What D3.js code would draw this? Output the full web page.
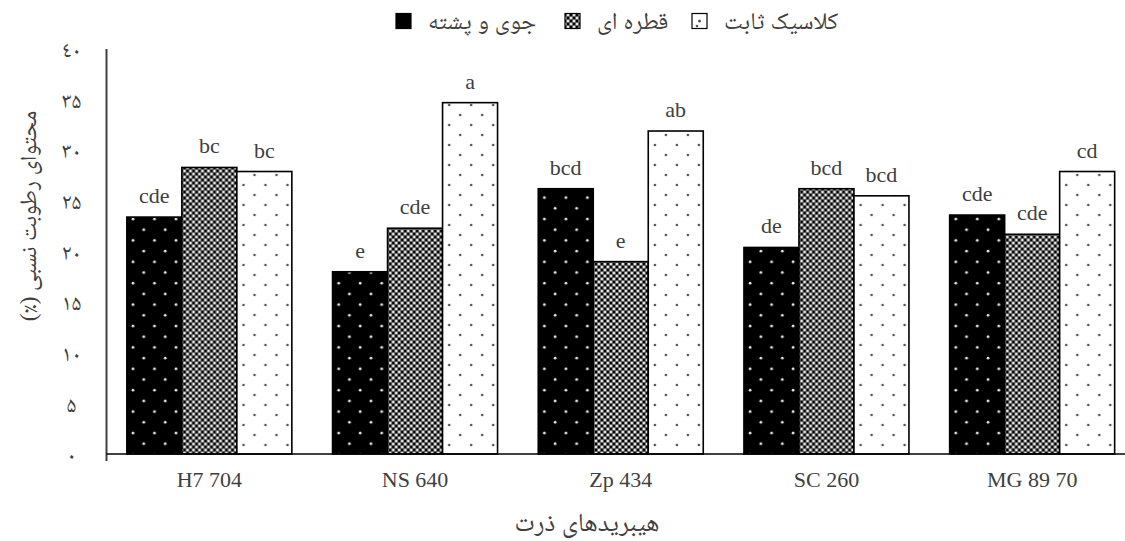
<!DOCTYPE html>
<html>
<head>
<meta charset="utf-8">
<script src="https://cdn.jsdelivr.net/npm/d3@7"></script>
<style>
  html, body { margin: 0; padding: 0; background: #ffffff; }
  svg { display: block; }
</style>
</head>
<body>
<svg id="chart" width="1125" height="541"></svg>
<script>
// Corn hybrids on the x axis
const categories = ["H7 704", "NS 640", "Zp 434", "SC 260", "MG 89 70"];
// Irrigation methods (legend order)
const seriesNames = ["جوی و پشته", "قطره ای", "کلاسیک ثابت"];
// Relative moisture content (%) per hybrid, one array per irrigation method
const furrowValues  = [23.4, 18.0, 26.2, 20.4, 23.6];
const dripValues    = [28.3, 22.3, 19.0, 26.2, 21.7];
const classicValues = [27.9, 34.7, 31.9, 25.5, 27.9];
// Mean-comparison letters shown above each bar
const furrowLetters  = ["cde", "e", "bcd", "de", "cde"];
const dripLetters    = ["bc", "cde", "e", "bcd", "cde"];
const classicLetters = ["bc", "a", "ab", "bcd", "cd"];
// Y axis tick values and their labels in Persian digits
const yTickValues = [0, 5, 10, 15, 20, 25, 30, 35, 40];
const yTickLabels = ["٠", "۵", "١٠", "١۵", "٢٠", "٢۵", "٣٠", "٣۵", "٤٠"];
const yTitle = "محتوای رطوبت نسبی (٪)";
const xTitle = "هیبریدهای ذرت";

const seriesValues = [furrowValues, dripValues, classicValues];
const seriesLetters = [furrowLetters, dripLetters, classicLetters];
const patternIds = ["pat-furrow", "pat-drip", "pat-classic"];

const FONT = '"Times New Roman", "Liberation Serif", Tinos, "Noto Naskh Arabic", Amiri, "DejaVu Sans", serif';
const TEXT_COLOR = "#404040";

const svg = d3.select("#chart");
const defs = svg.append("defs");

// Black fill with staggered white dots
const p0 = defs.append("pattern").attr("id", "pat-furrow")
  .attr("patternUnits", "userSpaceOnUse").attr("width", 21.5).attr("height", 21.4);
p0.append("rect").attr("width", 21.5).attr("height", 21.4).attr("fill", "#000");
p0.append("circle").attr("cx", 5).attr("cy", 5).attr("r", 1.4).attr("fill", "#e8e8e8");
p0.append("circle").attr("cx", 15.75).attr("cy", 15.7).attr("r", 1.4).attr("fill", "#e8e8e8");

// Fine dark lattice with light gaps
const p1 = defs.append("pattern").attr("id", "pat-drip")
  .attr("patternUnits", "userSpaceOnUse").attr("width", 6).attr("height", 6);
p1.append("rect").attr("width", 6).attr("height", 6).attr("fill", "#e6e6e6");
[[0, 0], [6, 0], [0, 6], [6, 6], [3, 3]].forEach(([cx, cy]) => {
  p1.append("circle").attr("cx", cx).attr("cy", cy).attr("r", 1.7).attr("fill", "#000");
});
p1.append("path").attr("d", "M0,0L6,6M6,0L0,6").attr("stroke", "#000").attr("stroke-width", 0.5);

// White fill with staggered dark dots
const p2 = defs.append("pattern").attr("id", "pat-classic")
  .attr("patternUnits", "userSpaceOnUse").attr("width", 22).attr("height", 20);
p2.append("rect").attr("width", 22).attr("height", 20).attr("fill", "#fff");
p2.append("circle").attr("cx", 5).attr("cy", 5).attr("r", 1.3).attr("fill", "#555");
p2.append("circle").attr("cx", 16).attr("cy", 15).attr("r", 1.3).attr("fill", "#555");

const plotLeft = 106.5, plotRight = 1135, plotTop = 49, plotBottom = 454;

const x0 = d3.scaleBand().domain(categories).range([plotLeft, plotRight]).padding(0);
const x1 = d3.scaleBand().domain(d3.range(seriesNames.length))
  .range([0, x0.bandwidth()]).paddingInner(0).paddingOuter(0.37);
const y = d3.scaleLinear().domain([0, 40]).range([plotBottom, plotTop]);

function styleText(sel, size) {
  return sel.style("font-family", FONT).style("font-size", size + "px")
    .style("font-weight", "normal").style("fill", TEXT_COLOR);
}

// Bars and their letters
const groups = svg.append("g").selectAll("g").data(categories).join("g")
  .attr("transform", d => `translate(${x0(d)},0)`);

groups.each(function (cat, ci) {
  const g = d3.select(this);
  seriesValues.forEach((vals, si) => {
    g.append("rect")
      .attr("x", x1(si))
      .attr("y", y(vals[ci]))
      .attr("width", x1.bandwidth())
      .attr("height", y(0) - y(vals[ci]))
      .attr("fill", `url(#${patternIds[si]})`)
      .attr("stroke", "#000")
      .attr("stroke-width", 1.6);
    styleText(g.append("text"), 22)
      .attr("x", x1(si) + x1.bandwidth() / 2)
      .attr("y", y(vals[ci]) - 14)
      .attr("text-anchor", "middle")
      .text(seriesLetters[si][ci]);
  });
});

// Y axis: line with Persian-digit labels, no tick marks
const yAxis = svg.append("g").attr("transform", `translate(${plotLeft},0)`)
  .call(d3.axisLeft(y).tickValues(yTickValues)
    .tickFormat((d, i) => yTickLabels[i]).tickSize(0).tickPadding(0));
yAxis.select(".domain").attr("stroke", "#404040").attr("stroke-width", 2)
  .attr("d", `M0,${plotTop}V${plotBottom + 7}`);
styleText(yAxis.selectAll(".tick text"), 22)
  .attr("x", -35).attr("text-anchor", "middle").attr("dy", "0.35em");

// X axis
const xAxis = svg.append("g").attr("transform", `translate(0,${plotBottom})`)
  .call(d3.axisBottom(x0).tickSize(0).tickPadding(0));
xAxis.select(".domain").attr("stroke", "#000").attr("stroke-width", 1.6)
  .attr("d", `M${plotLeft},0H${plotRight}`);
styleText(xAxis.selectAll(".tick text"), 22).attr("y", 33).attr("dy", 0);

// Axis titles
styleText(svg.append("text"), 23)
  .attr("transform", `translate(28,216) rotate(-90)`)
  .attr("direction", "rtl")
  .attr("text-anchor", "middle").attr("dy", "0.35em")
  .text(yTitle);
styleText(svg.append("text"), 26)
  .attr("x", 587).attr("y", 531).attr("text-anchor", "middle")
  .attr("direction", "rtl")
  .text(xTitle);

// Legend: icon followed by its label (solid black swatch for the first method)
const legendIconX = [396, 565, 692];
const legendFills = ["#000", `url(#${patternIds[1]})`, `url(#${patternIds[2]})`];
const legend = svg.append("g").attr("transform", "translate(0,21)");
seriesNames.forEach((name, si) => {
  const item = legend.append("g").attr("transform", `translate(${legendIconX[si]},0)`);
  item.append("rect").attr("x", 0).attr("y", -7.5).attr("width", 15).attr("height", 15)
    .attr("fill", legendFills[si]).attr("stroke", "#000").attr("stroke-width", 1.2);
  if (si === 2) {
    item.append("circle").attr("cx", 7.5).attr("cy", 0).attr("r", 1.5).attr("fill", "#555");
  }
  styleText(item.append("text"), 24)
    .attr("x", 32).attr("y", 0).attr("dy", "0.35em")
    .attr("text-anchor", "start").text(name);
});
</script>
</body>
</html>
